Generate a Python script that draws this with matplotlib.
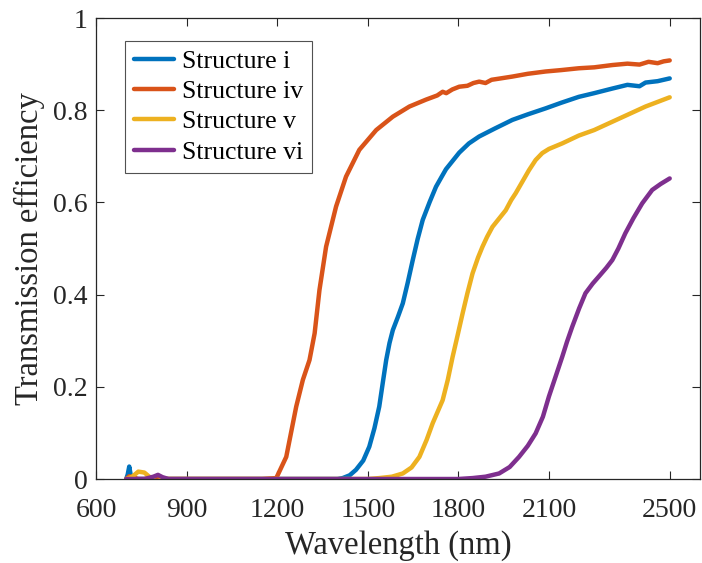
import numpy as np
import matplotlib.pyplot as plt

# Transmission spectra, wavelength in nm
wl_i = [700, 705, 710, 715, 720, 1000, 1400, 1417, 1440, 1461, 1485, 1505, 1522, 1538, 1550,
        1561, 1572, 1583, 1600, 1616, 1632, 1649, 1665, 1682, 1705, 1726, 1745, 1759, 1781,
        1803, 1835, 1869, 1920, 1979, 2030, 2089, 2140, 2199, 2250, 2310, 2360, 2400, 2420,
        2460, 2500]
t_i = [0.0, 0.01, 0.027, 0.008, 0.0, 0.0, 0.0, 0.002, 0.008, 0.02, 0.04, 0.07, 0.11, 0.157, 0.21,
       0.258, 0.295, 0.323, 0.352, 0.381, 0.425, 0.475, 0.52, 0.562, 0.601, 0.634, 0.656, 0.672, 0.690,
       0.708, 0.728, 0.743, 0.760, 0.779, 0.791, 0.804, 0.816, 0.829, 0.837, 0.847, 0.855, 0.852, 0.860,
       0.863, 0.869]

wl_iv = [700, 710, 720, 740, 800, 1000, 1150, 1197, 1230, 1263, 1285, 1307, 1324, 1340, 1362,
         1395, 1428, 1472, 1528, 1583, 1638, 1693, 1730, 1748, 1760, 1780, 1803, 1830, 1850,
         1869, 1890, 1910, 1940, 1979, 2030, 2089, 2140, 2199, 2250, 2310, 2360, 2400, 2430,
         2460, 2480, 2500]
t_iv = [0.0, 0.006, 0.004, 0.0, 0.0, 0.0, 0.0, 0.002, 0.048, 0.157, 0.215, 0.258, 0.316, 0.41, 0.504,
        0.591, 0.656, 0.714, 0.757, 0.786, 0.808, 0.823, 0.832, 0.840, 0.837, 0.845, 0.851, 0.853, 0.859,
        0.862, 0.859, 0.866, 0.869, 0.873, 0.879, 0.884, 0.887, 0.891, 0.893, 0.898, 0.901, 0.899, 0.905,
        0.902, 0.906, 0.908]

wl_v = [700, 720, 740, 760, 780, 800, 820, 1000, 1500, 1538, 1580, 1616, 1645, 1671, 1695, 1715,
        1748, 1765, 1781, 1798, 1814, 1830, 1847, 1865, 1880, 1895, 1913, 1935, 1957, 1975, 1990,
        2012, 2034, 2056, 2078, 2100, 2144, 2199, 2250, 2310, 2360, 2420, 2460, 2500]
t_v = [0.0, 0.005, 0.016, 0.014, 0.003, -0.007, 0.0, 0.0, 0.0, 0.002, 0.005, 0.012, 0.025, 0.048, 0.085,
       0.121, 0.171, 0.215, 0.265, 0.313, 0.359, 0.403, 0.446, 0.480, 0.504, 0.525, 0.547, 0.565, 0.583,
       0.605, 0.620, 0.645, 0.670, 0.692, 0.707, 0.716, 0.728, 0.745, 0.757, 0.775, 0.790, 0.808, 0.818,
       0.828]

wl_vi = [700, 760, 790, 805, 820, 840, 1000, 1800, 1847, 1890, 1935, 1970, 2001, 2030, 2056, 2080,
         2100, 2122, 2144, 2160, 2177, 2200, 2221, 2245, 2265, 2290, 2310, 2330, 2353, 2380, 2409,
         2442, 2470, 2500]
t_vi = [0.0, 0.0, 0.005, 0.009, 0.004, 0.0, 0.0, 0.0, 0.002, 0.005, 0.012, 0.026, 0.048, 0.072, 0.099,
        0.135, 0.179, 0.222, 0.265, 0.298, 0.330, 0.370, 0.403, 0.424, 0.439, 0.458, 0.475, 0.500, 0.533,
        0.566, 0.598, 0.627, 0.640, 0.652]

labels = ['Structure i', 'Structure iv', 'Structure v', 'Structure vi']
xticks = [600, 900, 1200, 1500, 1800, 2100, 2500]
yticks = [0, 0.2, 0.4, 0.6, 0.8, 1]
ytick_labels = ['0', '0.2', '0.4', '0.6', '0.8', '1']

plt.rcParams['font.family'] = ['Liberation Serif', 'DejaVu Serif']

fig = plt.figure(figsize=(7.02, 5.63), dpi=100)
ax = fig.add_axes([0.1368, 0.1492, 0.8602, 0.8188])

colors = ['#0072BD', '#D95319', '#EDB120', '#7E2F8E']
series = [(wl_i, t_i), (wl_iv, t_iv), (wl_v, t_v), (wl_vi, t_vi)]
for (wl, t), c, lab in zip(series, colors, labels):
    ax.plot(wl, t, color=c, lw=3.2, label=lab, solid_capstyle='round')

ax.set_xlim(600, 2600)
ax.set_ylim(0, 1)
ax.set_xticks(xticks)
ax.set_yticks(yticks)
ax.set_yticklabels(ytick_labels)

edge = '#262626'
for s in ax.spines.values():
    s.set_color(edge)
    s.set_linewidth(0.9)
ax.tick_params(direction='in', length=6, width=0.8, colors=edge, labelsize=20,
               top=True, right=True, pad=6)
ax.tick_params(axis='x', pad=14)

ax.set_xlabel('Wavelength (nm)', fontsize=23.5, color=edge, labelpad=5)
ax.set_ylabel('Transmission efficiency', fontsize=23.5, color=edge, labelpad=6)

leg = ax.legend(loc='upper left', bbox_to_anchor=(0.048, 0.95), fontsize=18.5,
                frameon=True, fancybox=False, edgecolor=edge, handlelength=1.55,
                handletextpad=0.3, labelspacing=0.28, borderpad=0.35, borderaxespad=0)
leg.get_frame().set_linewidth(0.8)

fig.savefig('out.png', dpi=100)
